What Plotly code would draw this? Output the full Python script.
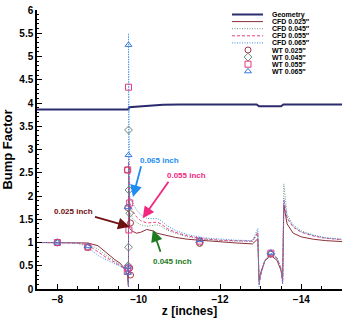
import plotly.graph_objects as go

# ---------------- data ----------------
geo_z = [-7.5, -9.75, -9.76, -10.2, -10.6, -11.0, -12.9, -12.96, -13.5, -13.56, -15.0]
geo_v = [3.86, 3.86, 3.91, 3.94, 3.96, 3.97, 3.97, 3.93, 3.93, 3.97, 3.97]

cfd_z = [-7.5, -8.0, -8.5, -8.75, -9.0, -9.2, -9.4, -9.55, -9.65, -9.72, -9.75, -9.75,
         -9.78, -9.85, -9.95, -10.05, -10.2, -10.35, -10.45, -10.55, -10.7, -10.9,
         -11.2, -11.6, -12.0, -12.4, -12.8, -12.93, -12.96, -13.0, -13.1, -13.25,
         -13.4, -13.5, -13.54, -13.57, -13.65, -13.8, -14.0, -14.3, -14.6, -15.0]
cfd_025 = [1.0, 1.0, 1.0, 0.99, 0.93, 0.78, 0.64, 0.55, 0.44, 0.32, 0.05, 2.7,
           1.3, 1.24, 1.2, 1.22, 1.28, 1.25, 1.2, 1.18, 1.15, 1.11,
           1.07, 1.04, 1.01, 0.99, 0.97, 1.08, 0.2, 0.35, 0.6, 0.72,
           0.62, 0.4, 0.2, 1.8, 1.4, 1.2, 1.12, 1.07, 1.04, 1.02]
cfd_045 = [1.0, 1.0, 1.0, 0.97, 0.86, 0.72, 0.61, 0.52, 0.44, 0.34, 0.05, 2.7,
           1.65, 1.52, 1.43, 1.38, 1.35, 1.37, 1.38, 1.35, 1.27, 1.2,
           1.12, 1.07, 1.04, 1.03, 1.02, 1.2, 0.1, 0.3, 0.6, 0.75,
           0.66, 0.43, 0.15, 2.26, 1.6, 1.38, 1.25, 1.16, 1.1, 1.07]
cfd_055 = [1.0, 1.0, 0.99, 0.95, 0.8, 0.68, 0.58, 0.5, 0.44, 0.36, 0.05, 2.8,
           1.85, 1.68, 1.55, 1.47, 1.42, 1.43, 1.44, 1.4, 1.3, 1.22,
           1.14, 1.08, 1.05, 1.04, 1.03, 1.22, 0.1, 0.3, 0.6, 0.76,
           0.67, 0.44, 0.12, 1.9, 1.52, 1.33, 1.22, 1.14, 1.09, 1.06]
cfd_065 = [1.0, 1.0, 0.98, 0.9, 0.72, 0.63, 0.54, 0.48, 0.44, 0.38, 0.05, 5.5,
           2.0, 1.85, 1.7, 1.6, 1.52, 1.51, 1.52, 1.47, 1.36, 1.26,
           1.17, 1.1, 1.07, 1.05, 1.04, 1.3, 0.05, 0.3, 0.62, 0.77,
           0.68, 0.45, 0.1, 1.95, 1.55, 1.35, 1.23, 1.15, 1.1, 1.07]

wt025_z = [-8.0, -8.75, -9.72, -9.73, -9.80, -9.78, -9.80, -11.5, -13.25]
wt025_v = [1.0, 0.9, 2.56, 1.75, 1.42, 0.45, 0.3, 0.98, 0.75]
wt045_z = [-8.0, -8.75, -9.75, -9.76, -9.78, -9.75, -9.74, -11.5, -13.25]
wt045_v = [1.0, 0.9, 3.42, 2.13, 1.63, 0.9, 0.5, 1.0, 0.76]
wt055_z = [-8.0, -8.75, -9.75, -9.73, -9.78, -9.76, -9.72, -9.74, -11.5, -13.25]
wt055_v = [1.0, 0.9, 4.34, 2.56, 1.85, 1.27, 0.38, 0.45, 1.03, 0.77]
wt065_z = [-8.0, -8.75, -9.75, -9.75, -9.73, -9.73, -9.74, -11.5, -13.25]
wt065_v = [1.0, 0.92, 5.25, 2.88, 1.76, 0.48, 0.35, 1.05, 0.78]

x_ticks = [-8, -10, -12, -14]
y_ticks = [0, 0.5, 1, 1.5, 2, 2.5, 3, 3.5, 4, 4.5, 5, 5.5, 6]

legend_labels = ["Geometry", "CFD 0.025\u2033", "CFD 0.045\u2033", "CFD 0.055\u2033",
                 "CFD 0.065\u2033", "WT 0.025\u2033", "WT 0.045\u2033", "WT 0.055\u2033",
                 "WT 0.065\u2033"]

# ---------------- styles ----------------
C_GEO = "#2b2b6e"
C025 = "#8b2f3a"
C045 = "#6f9a80"
C055 = "#e8407f"
C065 = "#3f8fe6"
M025 = "#a8384e"
M045 = "#6a8a72"
M055 = "#e23a82"
M065 = "#3a78dc"
DOT = "1px,1.5px"
DASH = "3px,2px"

line_defs = [(geo_v, C_GEO, "solid", 2.0), (cfd_025, C025, "solid", 1.0),
             (cfd_045, C045, DOT, 1.0), (cfd_055, C055, DASH, 1.0), (cfd_065, C065, DOT, 1.0)]
mark_defs = [(wt025_z, wt025_v, "circle-open", M025),
             (wt045_z, wt045_v, "diamond-open", M045),
             (wt055_z, wt055_v, "square-open", M055),
             (wt065_z, wt065_v, "triangle-up-open", M065)]

fig = go.Figure()
for i, (vv, col, dash, w) in enumerate(line_defs):
    zz = geo_z if i == 0 else cfd_z
    fig.add_trace(go.Scatter(x=zz, y=vv, mode="lines", line=dict(color=col, width=w, dash=dash)))
for zz, vv, sym, col in mark_defs:
    fig.add_trace(go.Scatter(x=zz, y=vv, mode="markers",
                             marker=dict(symbol=sym, size=6, color=col, line=dict(width=1, color=col))))

# ---------------- annotation arrows ----------------
FONT = "Liberation Sans, Arial, sans-serif"
arrows = [
    ("0.065 inch", -10.51, 2.77, -10.07, 2.67, -9.86, 1.98, "#1e8cf0"),
    ("0.055 inch", -11.17, 2.45, -10.76, 2.34, -10.10, 1.52, "#f0287f"),
    ("0.025 inch", -8.39, 1.66, -8.89, 1.56, -9.78, 1.34, "#6e1010"),
    ("0.045 inch", -10.83, 0.60, -10.55, 0.77, -10.35, 1.27, "#1d7a1d"),
]
for txt, tx, ty, ax, ay, hx, hy, col in arrows:
    fig.add_annotation(x=hx, y=hy, ax=ax, ay=ay, xref="x", yref="y", axref="x", ayref="y",
                       text="", showarrow=True, arrowhead=2, arrowsize=1.3, arrowwidth=1.8,
                       arrowcolor=col)
    fig.add_annotation(x=tx, y=ty, xref="x", yref="y", text=txt, showarrow=False,
                       font=dict(family=FONT, size=8, color=col, weight="bold"))

# ---------------- manual legend (overlay axes in pixel units) ----------------
rows_y = [14.5 + 7.1 * i for i in range(9)]
for i, (vv, col, dash, w) in enumerate(line_defs):
    fig.add_trace(go.Scatter(x=[232, 263], y=[rows_y[i], rows_y[i]], mode="lines",
                             xaxis="x2", yaxis="y2", line=dict(color=col, width=w, dash=dash)))
for j, (zz, vv, sym, col) in enumerate(mark_defs):
    fig.add_trace(go.Scatter(x=[248], y=[rows_y[5 + j]], mode="markers", xaxis="x2", yaxis="y2",
                             marker=dict(symbol=sym, size=6, color=col, line=dict(width=1, color=col))))
for i, lab in enumerate(legend_labels):
    fig.add_annotation(x=270, y=rows_y[i], xref="x2", yref="y2", text=lab, showarrow=False,
                       xanchor="left", font=dict(family=FONT, size=7, color="black", weight="bold"))

fig.update_layout(
    width=344, height=318,
    margin=dict(l=37, r=2, t=10, b=29),
    paper_bgcolor="white", plot_bgcolor="white",
    showlegend=False,
    font=dict(family=FONT, color="black"),
    xaxis2=dict(overlaying="x", anchor="y2", range=[37, 342], visible=False),
    yaxis2=dict(overlaying="y", anchor="x2", range=[289, 10], visible=False),
)
fig.update_xaxes(selector=dict(anchor="y"))
fig.layout.xaxis.update(range=[-7.5, -15], tickvals=x_ticks, ticks="inside", ticklen=5, tickwidth=1.2,
                 tickcolor="black", showline=True, linecolor="black", linewidth=1.5,
                 showgrid=False, zeroline=False,
                 minor=dict(dtick=0.5, ticks="inside", ticklen=3, tickcolor="black", showgrid=False),
                 tickfont=dict(family=FONT, size=10, color="black", weight="bold"),
                 title=dict(text="z [inches]", standoff=2,
                            font=dict(family=FONT, size=12, color="black", weight="bold")))
fig.layout.yaxis.update(range=[0, 6], tickvals=y_ticks, ticks="inside", ticklen=5, tickwidth=1.2,
                 tickcolor="black", showline=True, linecolor="black", linewidth=1.5,
                 showgrid=False, zeroline=False,
                 minor=dict(dtick=0.1, ticks="inside", ticklen=2.5, tickcolor="black", showgrid=False),
                 tickfont=dict(family=FONT, size=10, color="black", weight="bold"),
                 title=dict(text="Bump Factor", standoff=4,
                            font=dict(family=FONT, size=13, color="black", weight="bold")))

fig.write_html("out.html")
